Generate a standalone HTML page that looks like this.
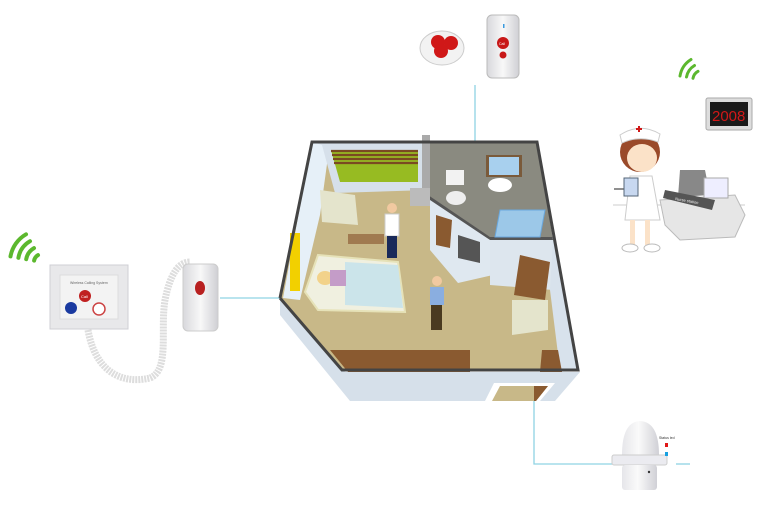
<!DOCTYPE html>
<html><head><meta charset="utf-8"><style>
html,body{margin:0;padding:0;background:#fff;}
svg{display:block;}
text{font-family:"Liberation Sans",sans-serif;}
</style></head><body>
<svg width="777" height="506" viewBox="0 0 777 506" xmlns="http://www.w3.org/2000/svg">
<defs>
<linearGradient id="dome" x1="0" x2="1"><stop offset="0" stop-color="#e6e6ea"/><stop offset=".45" stop-color="#fafafa"/><stop offset="1" stop-color="#d0d0d6"/></linearGradient>
<linearGradient id="dev" x1="0" x2="1"><stop offset="0" stop-color="#d8d8dc"/><stop offset=".5" stop-color="#f8f8f8"/><stop offset="1" stop-color="#cfcfd4"/></linearGradient>
</defs>

<g stroke="#8fd3e3" stroke-width="1.3" fill="none">
<line x1="475" y1="85" x2="475" y2="168"/>
<line x1="220" y1="298" x2="282" y2="298"/>
<polyline points="534,375 534,464 612,464"/>
<line x1="676" y1="464" x2="690" y2="464"/>
</g>
<line x1="614" y1="189" x2="630" y2="189" stroke="#222" stroke-width="1"/>
<line x1="613" y1="205" x2="745" y2="205" stroke="#ddd" stroke-width="1.5"/>

<polygon points="280,298 345,372 580,372 555,401 350,401 280,315" fill="#d6e0ea"/>
<polygon points="494,383 555,383 540,401 485,401" fill="#fff"/>
<polygon points="500,386 548,386 536,401 492,401" fill="#c8b888"/>
<polygon points="534,386 548,386 536,401 534,401" fill="#8a5a30"/>
<polygon points="312,142 537,142 578,370 342,370 281,297" fill="#c8b888"/>
<polygon points="312,142 330,142 320,215 300,300 283,298" fill="#e6f0f8"/>
<polygon points="312,142 428,142 428,190 335,193 322,145" fill="#d6e0ea"/>
<polygon points="331,150 418,150 418,182 340,182" fill="#97bb22"/>
<g stroke="#7a4a22" stroke-width="2.2"><line x1="331" y1="151" x2="418" y2="151"/><line x1="332" y1="155" x2="418" y2="155"/><line x1="333" y1="159" x2="418" y2="159"/><line x1="334" y1="163" x2="418" y2="163"/></g>
<polygon points="428,142 537,142 553,237 490,237 428,200" fill="#8a8a80"/>
<polygon points="428,195 490,237 553,237 553,240 490,240 428,202" fill="#555"/>
<rect x="486" y="155" width="36" height="22" fill="#7a5a3a"/><rect x="489" y="157" width="30" height="18" fill="#a8d0ee"/>
<ellipse cx="500" cy="185" rx="12" ry="7" fill="#fff"/>
<rect x="446" y="170" width="18" height="15" fill="#f2f2f2"/><ellipse cx="456" cy="198" rx="10" ry="7" fill="#eee"/>
<polygon points="500,210 545,210 540,237 495,237" fill="#9cc8e8" stroke="#6aa8de"/>
<rect x="422" y="135" width="8" height="62" fill="#aaa"/>
<rect x="410" y="188" width="20" height="18" fill="#bbb"/>
<polygon points="430,200 490,240 493,275 458,283 430,250" fill="#dfe8f0"/>
<polygon points="436,215 452,220 450,248 436,245" fill="#8a5a30"/>
<polygon points="458,235 480,242 480,263 458,258" fill="#555"/>
<polygon points="490,240 553,240 553,290 490,285" fill="#dde6ee"/>
<polygon points="537,142 578,370 560,370 550,290 553,240" fill="#d8e2ec"/>
<polygon points="520,255 550,262 545,300 514,295" fill="#8a5a30"/>
<polygon points="512,300 548,300 548,330 512,335" fill="#e4e4cc"/>
<polygon points="320,190 355,195 358,225 322,222" fill="#e4e4cc"/>
<rect x="348" y="234" width="36" height="10" fill="#a07a50"/>
<polygon points="348,372 470,372 470,350 330,350" fill="#8a5a30"/>
<polygon points="542,350 558,350 562,372 540,372" fill="#8a5a30"/>
<rect x="290" y="233" width="10" height="58" fill="#f2d000"/>
<polygon points="318,255 398,262 405,312 318,310 305,292" fill="#f0f0e0" stroke="#e6e2b8" stroke-width="2"/>
<polygon points="345,262 398,265 403,308 345,305" fill="#cbe4ea"/>
<ellipse cx="325" cy="278" rx="8" ry="7" fill="#f2d28a"/>
<rect x="330" y="270" width="16" height="16" fill="#c49cc8"/>
<circle cx="392" cy="208" r="5" fill="#f1c9a0"/><rect x="385" y="214" width="14" height="22" fill="#fff" stroke="#ccc"/>
<rect x="387" y="236" width="10" height="22" fill="#1a2a5a"/>
<circle cx="437" cy="281" r="5" fill="#f1c9a0"/><rect x="430" y="287" width="14" height="18" fill="#8aaee0"/>
<rect x="431" y="305" width="11" height="25" fill="#4a3a20"/>
<polyline points="280,298 312,142 537,142 578,370 342,370 280,298" fill="none" stroke="#444" stroke-width="3"/>

<g fill="none" stroke="#5cb82e" stroke-width="4" stroke-linecap="round">
<path d="M10.5,256.4 A32,32 0 0 1 26,234.3"/>
<path d="M18.4,257.8 A24,24 0 0 1 30,241.2"/>
<path d="M26.2,259.2 A16,16 0 0 1 34,248.1"/>
<path d="M34.1,260.6 A8,8 0 0 1 38,255.1"/>
</g>
<rect x="50" y="265" width="78" height="64" fill="#e8e8ea" stroke="#cfcfd4"/>
<rect x="60" y="275" width="58" height="44" fill="#f3f3f3" stroke="#ddd"/>
<text x="70" y="284" font-size="3.5" fill="#666">Wireless Calling System</text>
<circle cx="85" cy="296" r="6" fill="#c02020"/><text x="81" y="298" font-size="4" fill="#fff">Call</text>
<circle cx="71" cy="308" r="6" fill="#1a3aa0"/><circle cx="99" cy="309" r="6" fill="#fff" stroke="#c44" stroke-width="1.5"/>
<path d="M88,330 C95,370 120,385 150,378 C170,370 160,330 165,300 C170,275 178,262 190,262" fill="none" stroke="#ddd" stroke-width="7" stroke-dasharray="2 1"/>
<rect x="183" y="264" width="35" height="67" rx="5" fill="url(#dev)" stroke="#ccc"/>
<ellipse cx="200" cy="288" rx="5" ry="7" fill="#b82020"/>

<ellipse cx="442" cy="48" rx="22" ry="17" fill="#f2f2f2" stroke="#ccc"/>
<circle cx="438" cy="42" r="7" fill="#d01818"/><circle cx="451" cy="43" r="7" fill="#d01818"/><circle cx="441" cy="51" r="7" fill="#d01818"/>
<rect x="487" y="15" width="32" height="63" rx="5" fill="url(#dev)" stroke="#bbb"/>
<circle cx="503" cy="43" r="6" fill="#c81818"/><text x="499" y="45" font-size="3.5" fill="#fff">Call</text><circle cx="503" cy="55" r="3.5" fill="#c81818"/>
<rect x="503" y="24" width="1.5" height="4" fill="#3a9ade"/>

<g fill="none" stroke="#5cb82e" stroke-width="3" stroke-linecap="round">
<path d="M680,76 A24,24 0 0 1 691,59.5"/>
<path d="M686.5,77 A17,17 0 0 1 694.5,65.5"/>
<path d="M693,78.3 A10,10 0 0 1 698,71.3"/>
</g>
<rect x="706" y="98" width="46" height="32" rx="2" fill="#ddd" stroke="#aaa"/>
<rect x="710" y="102" width="38" height="24" fill="#1a1a1a"/>
<text x="712" y="121" font-size="15" fill="#d01818" font-family="Liberation Mono,monospace">2008</text>
<polygon points="660,200 735,195 745,215 735,237 680,240 665,225" fill="#e6e6e6" stroke="#bbb"/>
<polygon points="680,170 705,170 710,195 678,197" fill="#888"/>
<rect x="704" y="178" width="24" height="20" fill="#eef" stroke="#aaa"/>
<polygon points="665,190 715,200 712,210 663,198" fill="#555"/>
<text x="675" y="200" font-size="4" fill="#eee" transform="rotate(10 675 200)">Nurse station</text>
<circle cx="640" cy="152" r="20" fill="#9a4a2a"/>
<ellipse cx="642" cy="158" rx="15" ry="14" fill="#fbe2c8"/>
<path d="M620,135 Q640,122 660,134 L658,142 Q640,135 622,143 Z" fill="#fff" stroke="#ccc"/>
<rect x="636" y="128" width="6" height="2" fill="#d01818"/><rect x="638" y="126" width="2" height="6" fill="#d01818"/>
<path d="M630,176 L652,176 L660,220 L625,220 Z" fill="#fff" stroke="#ccc"/>
<rect x="624" y="178" width="14" height="18" fill="#c8d8f0" stroke="#567"/>
<rect x="630" y="220" width="5" height="25" fill="#fbe2c8"/><rect x="645" y="220" width="5" height="25" fill="#fbe2c8"/>
<ellipse cx="630" cy="248" rx="8" ry="4" fill="#fff" stroke="#bbb"/><ellipse cx="652" cy="248" rx="8" ry="4" fill="#fff" stroke="#bbb"/>

<path d="M622,455 Q622,422 640,421 Q659,422 659,455 Z" fill="url(#dome)"/>
<rect x="612" y="455" width="55" height="10" rx="2" fill="#ebebf0" stroke="#ccc"/>
<rect x="622" y="465" width="35" height="25" rx="3" fill="url(#dome)"/>
<circle cx="649" cy="472" r="1.2" fill="#333"/>
<text x="659" y="439" font-size="3.5" fill="#333">Status led</text>
<rect x="665" y="443" width="3" height="4" fill="#e01818"/><rect x="665" y="452" width="3" height="4" fill="#18a0e0"/>
</svg>
</body></html>
